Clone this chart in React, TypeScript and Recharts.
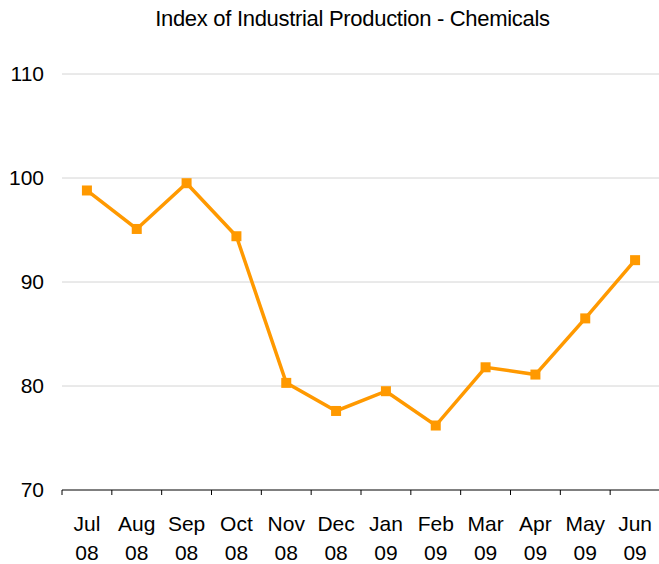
import React from "react";
import { LineChart, Line, XAxis, YAxis, CartesianGrid } from "recharts";

const categories = ["Jul 08", "Aug 08", "Sep 08", "Oct 08", "Nov 08", "Dec 08", "Jan 09", "Feb 09", "Mar 09", "Apr 09", "May 09", "Jun 09"];
const values = [98.8, 95.1, 99.5, 94.4, 80.3, 77.6, 79.5, 76.2, 81.8, 81.1, 86.5, 92.1];
const yTicks = [70, 80, 90, 100, 110];
const title = "Index of Industrial Production - Chemicals";

const data = categories.map((c, i) => ({ name: c, value: values[i] }));

const W = 659;
const H = 564;
const LEFT = 62;
const RIGHT_MARGIN = -1;
const BAND = (W - RIGHT_MARGIN - LEFT) / categories.length;
const FONT = "'Liberation Sans', Arial, sans-serif";
const ORANGE = "#FF9900";

const XTick = (props: any) => {
  const { x, y, payload } = props;
  const parts = String(payload.value).split(" ");
  const bx = x - BAND / 2;
  return (
    <g>
      <line x1={bx} y1={y} x2={bx} y2={y + 5} stroke="#000" strokeWidth={1} />
      <text x={x} y={y + 41} textAnchor="middle" fontSize={21} fontFamily={FONT} fill="#000">{parts[0]}</text>
      <text x={x} y={y + 70} textAnchor="middle" fontSize={21} fontFamily={FONT} fill="#000">{parts[1]}</text>
    </g>
  );
};

const SquareDot = (props: any) => {
  const { cx, cy } = props;
  if (cx == null || cy == null) return null;
  return <rect x={cx - 5} y={cy - 5} width={10} height={10} fill={ORANGE} />;
};

export default function App() {
  return (
    <div style={{ position: "absolute", left: 0, top: 0, width: W, height: H, background: "#fff" }}>
      <svg width={W} height={40} style={{ position: "absolute", left: 0, top: 0, zIndex: 2 }}>
        <text x={352.5} y={26} textAnchor="middle" fontSize={22} letterSpacing={-0.3} fontFamily={FONT} fill="#000">
          {title}
        </text>
      </svg>
      <LineChart width={W} height={H} data={data} margin={{ top: 74, right: RIGHT_MARGIN, bottom: 0, left: 0 }}>
        <CartesianGrid vertical={false} horizontal={true} stroke="#d4d4d4" strokeWidth={1} horizontalValues={[80, 90, 100, 110]} />
        <XAxis
          dataKey="name"
          scale="band"
          height={74}
          tickLine={false}
          tickSize={0}
          tickMargin={0}
          axisLine={{ stroke: "#000", strokeWidth: 1 }}
          tick={<XTick />}
          interval={0}
        />
        <YAxis
          width={62}
          domain={[70, 110]}
          ticks={yTicks}
          axisLine={false}
          tickLine={false}
          tickSize={0}
          tickMargin={18}
          tick={{ fontSize: 21, fontFamily: FONT, fill: "#000" }}
        />
        <Line
          type="linear"
          dataKey="value"
          stroke={ORANGE}
          strokeWidth={3.5}
          dot={<SquareDot />}
          activeDot={false}
          isAnimationActive={false}
        />
      </LineChart>
    </div>
  );
}
